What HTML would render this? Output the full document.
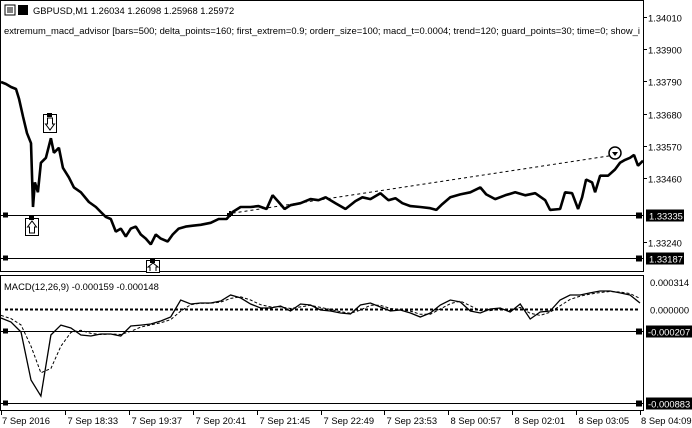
<!DOCTYPE html>
<html><head><meta charset="utf-8">
<style>
html,body{margin:0;padding:0;background:#fff;}
body{width:692px;height:428px;overflow:hidden;position:relative;font-family:"Liberation Sans",sans-serif;}
svg{position:absolute;left:0;top:0;}
text{font-family:"Liberation Sans",sans-serif;font-size:9.4px;fill:#000;}
</style></head>
<body>
<svg id="chart" width="692" height="428" viewBox="0 0 692 428">
  <rect x="0.5" y="0.5" width="643" height="271" fill="none" stroke="#000"/>
  <rect x="0.5" y="275.5" width="643" height="135" fill="none" stroke="#000"/>
  <g>
    <rect x="5" y="5" width="10" height="10" fill="#fff" stroke="#000"/>
    <line x1="7" y1="8" x2="13" y2="8" stroke="#000"/><line x1="7" y1="10" x2="13" y2="10" stroke="#000"/><line x1="7" y1="12" x2="13" y2="12" stroke="#000"/>
    <rect x="18" y="5" width="10" height="10" fill="#000"/>
  </g>
  <text x="33" y="14">GBPUSD,M1  1.26034 1.26098 1.25968 1.25972</text>
  <text x="4" y="34" textLength="636" lengthAdjust="spacingAndGlyphs">extremum_macd_advisor [bars=500; delta_points=160; first_extrem=0.9; orderr_size=100; macd_t=0.0004; trend=120; guard_points=30; time=0; show_i</text>
  <text x="4" y="290">MACD(12,26,9) -0.000159 -0.000148</text>
  <g id="g-main"></g>
  <g id="g-macd"></g>
  <g id="g-axes"></g>
</svg>
<script>
// price series (minutes from start, close price)
const priceMinutes=[0,5,10,15,18,22,26,30,32,34,37,40,45,50,53,58,62,68,73,80,88,95,100,105,110,115,120,125,130,135,140,145,150,155,160,167,172,178,185,192,200,210,218,226,232,240,250,258,266,272,278,284,290,300,310,318,325,335,345,355,362,370,380,388,395,402,410,420,430,436,442,450,460,470,480,486,495,505,515,525,535,545,550,560,565,572,578,582,586,592,595,600,608,615,620,625,630,634,638,643];
const prices=[1.33788,1.33781,1.33771,1.33764,1.33731,1.33670,1.33613,1.33579,1.33361,1.33445,1.33411,1.33512,1.33529,1.33596,1.33546,1.33563,1.33495,1.33462,1.33428,1.33411,1.33378,1.33361,1.33344,1.33327,1.33320,1.33277,1.33287,1.33260,1.33287,1.33294,1.33267,1.33253,1.33233,1.33267,1.33253,1.33243,1.33267,1.33287,1.33294,1.33297,1.33300,1.33307,1.33320,1.33320,1.33344,1.33361,1.33361,1.33364,1.33354,1.33401,1.33378,1.33354,1.33367,1.33374,1.33388,1.33384,1.33394,1.33374,1.33354,1.33381,1.33394,1.33388,1.33408,1.33384,1.33391,1.33374,1.33364,1.33361,1.33357,1.33351,1.33371,1.33394,1.33404,1.33411,1.33428,1.33404,1.33388,1.33401,1.33411,1.33401,1.33408,1.33384,1.33351,1.33354,1.33411,1.33408,1.33354,1.33394,1.33455,1.33445,1.33411,1.33468,1.33468,1.33489,1.33512,1.33522,1.33529,1.33539,1.33502,1.33519];
const priceTicks=[1.34010,1.33900,1.33790,1.33680,1.33570,1.33460,1.33240];
const levelPrices=[1.33335,1.33187];
// MACD series, one value per 10 minutes
const macdStep=10;
const macdValues=[-85,-122,-216,-668,-819,-245,-151,-179,-245,-254,-235,-235,-254,-160,-151,-141,-113,-75,85,47,56,56,75,132,104,47,9,9,28,-19,47,38,-9,-19,-38,-47,38,56,19,-19,-9,-38,-75,-38,38,85,66,-19,-38,0,9,-28,47,-94,-28,-19,85,132,132,151,169,169,151,132,56];
const signalValues=[-60,-90,-150,-350,-600,-560,-350,-220,-200,-230,-240,-235,-240,-210,-170,-150,-130,-100,-20,40,55,55,65,100,115,85,40,20,20,5,20,35,15,-5,-25,-40,-10,35,35,5,-5,-20,-50,-50,0,50,75,30,-15,-15,0,-15,15,-40,-60,-30,30,90,120,140,155,165,160,145,100];
const macdTicks=["0.000314","0.000000"];
const macdTickVals=[314,0];
const macdLevels=[-207,-883];
const macdLevelLabels=["-0.000207","-0.000883"];
const timeLabels=["7 Sep 2016","7 Sep 18:33","7 Sep 19:37","7 Sep 20:41","7 Sep 21:45","7 Sep 22:49","7 Sep 23:53","8 Sep 00:57","8 Sep 02:01","8 Sep 03:05","8 Sep 04:09"];
const timeLabelMinutes=[0,64,128,192,256,320,384,448,512,576,640];
// trend line endpoints (minute, price)
const trendMinutes=[232,612];
const trendPrices=[1.33340,1.33537];

const NS="http://www.w3.org/2000/svg";
const xS=m=>1+m*(642/643);
const yP=p=>17+(1.34010-p)/0.0011*32.2;
const yM=v=>309-v*0.1063;
function mk(tag,attrs,parent){const e=document.createElementNS(NS,tag);for(const k in attrs)e.setAttribute(k,attrs[k]);parent.appendChild(e);return e;}
const gMain=document.getElementById('g-main'),gM=document.getElementById('g-macd'),gA=document.getElementById('g-axes');

// level lines
levelPrices.forEach((p,i)=>{
  const y=Math.round(yP(p))+0.5;
  const l=mk('line',{x1:1,y1:y,x2:643,y2:y,stroke:'#000'},gMain);
  
  
  mk('rect',{x:3,y:y-3,width:5,height:5,fill:'#000'},gMain);
  mk('rect',{x:636,y:y-3,width:6,height:6,fill:'#000'},gMain);
  mk('rect',{x:646,y:y-6,width:38,height:12,fill:'#000'},gA);
  const t=mk('text',{x:649,y:y+4,style:'fill:#fff'},gA);
  t.textContent=p.toFixed(5);
  
  
});
// trend line
const tl=mk('line',{x1:xS(trendMinutes[0]),y1:yP(trendPrices[0]),x2:xS(trendMinutes[1]),y2:yP(trendPrices[1]),stroke:'#000','stroke-dasharray':'3,3'},gMain);


// price line
let d=priceMinutes.map((m,i)=>(i?'L':'M')+xS(m).toFixed(1)+' '+yP(prices[i]).toFixed(1)).join(' ');
const pl=mk('path',{d:d,fill:'none',stroke:'#000','stroke-width':2.6,'stroke-linejoin':'bevel'},gMain);


// markers
const b1=mk('g',{},gMain);


mk('rect',{x:43.5,y:114.5,width:13,height:18,fill:'#fff',stroke:'#000'},b1);
mk('rect',{x:47,y:113,width:5,height:4,fill:'#000'},b1);
mk('path',{d:'M47.5 118 V124 H45.5 L50 130 L54.5 124 H52.5 V118 Z',fill:'none',stroke:'#000'},b1);
const b2=mk('g',{},gMain);


mk('rect',{x:25.5,y:218.5,width:13,height:17,fill:'#fff',stroke:'#000'},b2);
mk('rect',{x:29,y:216,width:5,height:4,fill:'#000'},b2);
mk('path',{d:'M29.5 233 V227 H27.5 L32 221 L36.5 227 H34.5 V233 Z',fill:'none',stroke:'#000'},b2);
const b3=mk('g',{},gMain);


mk('rect',{x:146.5,y:260.5,width:13,height:12,fill:'#fff',stroke:'#000'},b3);
mk('rect',{x:150,y:258,width:5,height:5,fill:'#000'},b3);
mk('path',{d:'M150 271 V267 H148 L153 263 L158 267 H156 V271',fill:'none',stroke:'#000'},b3);
const c=mk('g',{},gMain);


mk('circle',{cx:615,cy:153,r:6,fill:'#fff',stroke:'#000','stroke-width':1.5},c);
mk('path',{d:'M612 152 L618 152 L615 156 Z',fill:'#000'},c);
const st=mk('path',{d:'M227 214 L233 214 M230 211 L230 217',stroke:'#000','stroke-width':2},gMain);



// price axis
priceTicks.forEach(p=>{
  const y=Math.round(yP(p))+0.5;
  mk('line',{x1:643,y1:y,x2:647,y2:y,stroke:'#000'},gA);
  const t=mk('text',{x:648,y:y+4},gA);
  t.textContent=p.toFixed(5);
  
  
});
// MACD
const zl=mk('line',{x1:5,y1:yM(0)+0.5,x2:640,y2:yM(0)+0.5,stroke:'#000','stroke-width':2,'stroke-dasharray':'3,2'},gM);


macdLevels.forEach((v,i)=>{
  const y=Math.round(yM(v))+0.5;
  const l=mk('line',{x1:1,y1:y,x2:643,y2:y,stroke:'#000'},gM);
  
  
  mk('rect',{x:3,y:y-3,width:5,height:5,fill:'#000'},gM);
  mk('rect',{x:636,y:y-3,width:6,height:6,fill:'#000'},gM);
  mk('rect',{x:646,y:y-6,width:46,height:12,fill:'#000'},gA);
  const t=mk('text',{x:648,y:y+4,style:'fill:#fff'},gA);
  t.textContent=macdLevelLabels[i];
  
  
});
const sd=signalValues.map((v,i)=>(i?'L':'M')+xS(i*macdStep).toFixed(1)+' '+yM(v).toFixed(1)).join(' ');
const sl=mk('path',{d:sd,fill:'none',stroke:'#000','stroke-dasharray':'3,2'},gM);


const md=macdValues.map((v,i)=>(i?'L':'M')+xS(i*macdStep).toFixed(1)+' '+yM(v).toFixed(1)).join(' ');
const ml=mk('path',{d:md,fill:'none',stroke:'#000','stroke-width':1.3},gM);


macdTickVals.forEach((v,i)=>{
  const y=Math.round(yM(v))+0.5;
  const t=mk('text',{x:650,y:(i===0?286:y+4)},gA);
  t.textContent=macdTicks[i];
  
  
});
// time axis
timeLabels.forEach((s,i)=>{
  const x=Math.round(xS(timeLabelMinutes[i]))+0.5;
  mk('line',{x1:x,y1:410,x2:x,y2:415,stroke:'#000'},gA);
  const t=mk('text',{x:x+2,y:424},gA);
  if(i===timeLabels.length-1){t.setAttribute('x',641);}
  if(i===0){t.setAttribute('x',2);}
  t.textContent=s;
  
  
});
</script>
</body></html>
